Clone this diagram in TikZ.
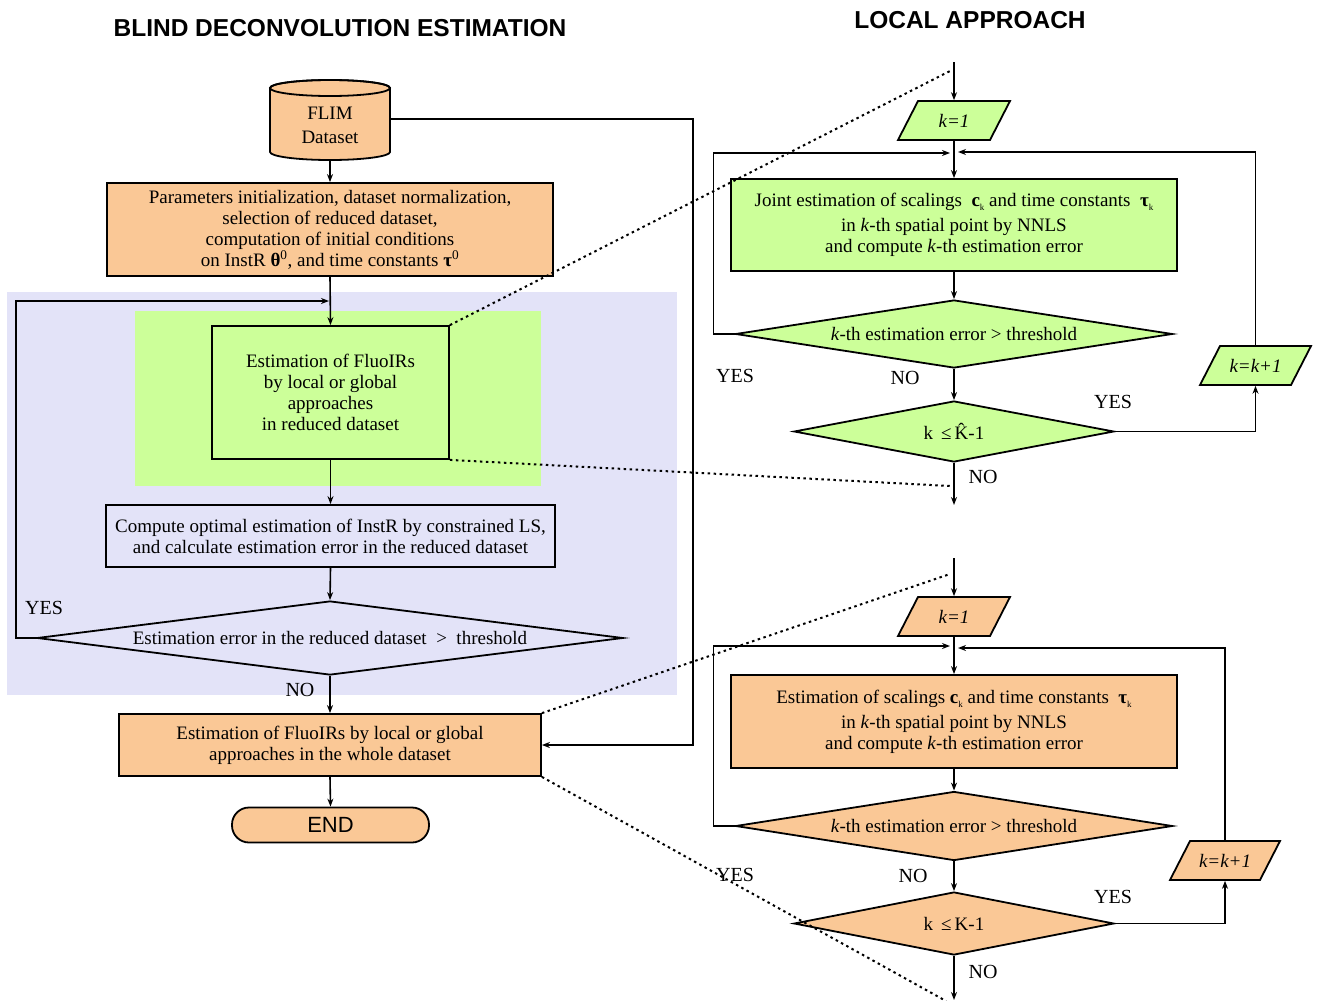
\documentclass[tikz,border=0pt]{standalone}
\usepackage{fontspec}
\setmainfont{Liberation Serif}
\newfontfamily\sansfnt{Liberation Sans}
\usetikzlibrary{shapes.geometric,arrows.meta,calc}
\definecolor{orng}{RGB}{250,200,150}
\definecolor{grn}{RGB}{204,255,153}
\definecolor{lav}{RGB}{227,227,248}
\newcommand{\subk}{\raisebox{-4pt}{\fontsize{9}{9}\selectfont k}}
\begin{document}
\begin{tikzpicture}[x=1pt,y=-1pt,
  font=\fontsize{19}{21}\selectfont,
  line width=1.6pt,
  arr/.style={-{Stealth[length=8pt,width=6pt]}},
  box/.style={draw=black, rectangle, align=center, inner sep=0pt, line width=1.8pt},
  dia/.style={draw=black, diamond, align=center, inner sep=0pt, line width=1.8pt},
  plain/.style={rectangle, align=center, inner sep=0pt},
  dotl/.style={line width=2pt, dash pattern=on 2.5pt off 3.5pt},
  lbl/.style={font=\fontsize{20}{22}\selectfont, inner sep=0pt},
  ttl/.style={font=\sansfnt\bfseries\fontsize{24.5}{26}\selectfont, inner sep=0pt}
]
\useasboundingbox (0,0) rectangle (1317,1001);

% backgrounds
\fill[lav] (7,292) rectangle (677,695);
\fill[grn] (135,311) rectangle (541,486);

% titles
\node[ttl] (t1) at (340,28) {BLIND DECONVOLUTION ESTIMATION};
\node[ttl] (t2) at (970,20) {LOCAL APPROACH};

% ---------------- left column ----------------
% cylinder
\draw[fill=orng, line width=1.8pt] (270,88) -- (270,152)
  arc[start angle=180, end angle=360, x radius=60pt, y radius=8pt]
  -- (390,88) arc[start angle=0, end angle=180, x radius=60pt, y radius=8pt] -- cycle;
\draw[line width=1.8pt] (330,88) ellipse[x radius=60pt, y radius=8pt];
\node[plain, minimum width=120pt, minimum height=70pt, font=\fontsize{19}{24}\selectfont] (flim) at (330,125) {FLIM\\Dataset};

\node[box, fill=orng, minimum width=446pt, minimum height=93pt] (b1) at (330,229.5)
  {Parameters initialization, dataset normalization,\\
   selection of reduced dataset,\\
   computation of initial conditions\\
   on InstR \textbf{θ}\textsuperscript{0}, and time constants \textbf{τ}\textsuperscript{0}};

\node[box, fill=grn, minimum width=237pt, minimum height=133pt] (b2) at (330.5,392.5)
  {Estimation of FluoIRs\\ by local or global\\ approaches\\ in reduced dataset};

\node[box, minimum width=449pt, minimum height=62pt] (b3) at (330.5,536)
  {Compute optimal estimation of InstR by constrained LS,\\
   and calculate estimation error in the reduced dataset};

\node[dia, aspect=7.92, minimum width=586pt, minimum height=74pt] (d1) at (330,638)
  {Estimation error in the reduced dataset \ > \ threshold};

\node[box, fill=orng, minimum width=422pt, minimum height=62pt] (b4) at (330,745)
  {Estimation of FluoIRs by local or global\\ approaches in the whole dataset};

\node[draw=black, fill=orng, line width=1.8pt, rounded corners=17pt, minimum width=197pt,
  minimum height=35pt, inner sep=0pt, font=\sansfnt\fontsize{22}{24}\selectfont] (endn) at (330.5,825) {END};

\coordinate (m1) at (329,301);
\draw[arr] (flim.south) -- (b1.north);
\draw[arr] (b1.south) -- (b2.north);
\draw[arr] (d1.west) -- ++(-20,0) |- (m1);
\draw[arr] (b2.south) -- (b3.north);
\draw[arr] (b3.south) -- (d1.north);
\draw[arr] (d1.south) -- (b4.north);
\draw[arr] (b4.south) -- (endn.north);
\draw[arr] ($(flim.east)+(0,-6)$) -| ($(b4.east)+(151,0)$) -- (b4.east);

\node[lbl] (yes1) at (44,608) {YES};
\node[lbl] (no1) at (300,690) {NO};

% ---------------- right top (green) ----------------
\coordinate (topG) at (954,62);
\draw[fill=grn, line width=1.8pt] (898,140) -- (990,140) -- (1010,101) -- (918,101) -- cycle;
\node[plain, minimum width=92pt, minimum height=39pt, font=\itshape\fontsize{19}{21}\selectfont] (k1g) at (954,120.5) {k=1};

\node[box, fill=grn, minimum width=446pt, minimum height=92pt] (jg) at (954,225)
  {Joint estimation of scalings \ \textbf{c}\subk\ and time constants \ \textbf{τ}\subk\\[4pt]
   in \textit{k}-th spatial point by NNLS\\
   and compute \textit{k}-th estimation error};

\node[dia, fill=grn, aspect=6.43, minimum width=437pt, minimum height=68pt] (dg1) at (954,334)
  {\textit{k}-th estimation error > threshold};

\node[dia, fill=grn, aspect=5.25, minimum width=320pt, minimum height=61pt] (dg2) at (954,431.5)
  {k \,≤\,\^{K}-1};

\draw[fill=grn, line width=1.8pt] (1200,385) -- (1291,385) -- (1311,346) -- (1220,346) -- cycle;
\node[plain, minimum width=91pt, minimum height=39pt, font=\itshape\fontsize{19}{21}\selectfont] (kkg) at (1255.5,365.5) {k=k+1};

\coordinate (mgl) at (950,153);
\coordinate (mgr) at (958,152);
\coordinate (endG) at (954,505);
\draw[arr] (topG) -- (k1g.north);
\draw[arr] (k1g.south) -- (jg.north);
\draw[arr] (jg.south) -- (dg1.north);
\draw[arr] (dg1.west) -- ++(-21,0) |- (mgl);
\draw[arr] (dg1.south) -- (dg2.north);
\draw[arr] (dg2.east) -| (kkg.south);
\draw[arr] (kkg.north) |- (mgr);
\draw[arr] (dg2.south) -- (endG);

\node[lbl] (yg1) at (735,376) {YES};
\node[lbl] (ng1) at (905,378) {NO};
\node[lbl] (yg2) at (1113,402) {YES};
\node[lbl] (ng2) at (983,477) {NO};

% ---------------- right bottom (orange) ----------------
\coordinate (topO) at (954,558);
\draw[fill=orng, line width=1.8pt] (898,636) -- (990,636) -- (1010,597) -- (918,597) -- cycle;
\node[plain, minimum width=92pt, minimum height=39pt, font=\itshape\fontsize{19}{21}\selectfont] (k1o) at (954,616.5) {k=1};

\node[box, fill=orng, minimum width=446pt, minimum height=93pt] (jo) at (954,721.5)
  {Estimation of scalings \textbf{c}\subk\ and time constants \ \textbf{τ}\subk\\[4pt]
   in \textit{k}-th spatial point by NNLS\\
   and compute \textit{k}-th estimation error};

\node[dia, fill=orng, aspect=6.33, minimum width=437pt, minimum height=69pt] (do1) at (954,826)
  {\textit{k}-th estimation error > threshold};

\node[dia, fill=orng, aspect=5.08, minimum width=320pt, minimum height=63pt] (do2) at (954,923.5)
  {k \,≤\,K-1};

\draw[fill=orng, line width=1.8pt] (1170,880) -- (1260,880) -- (1280,841) -- (1190,841) -- cycle;
\node[plain, minimum width=90pt, minimum height=39pt, font=\itshape\fontsize{19}{21}\selectfont] (kko) at (1225,860.5) {k=k+1};

\coordinate (mol) at (950,646);
\coordinate (mor) at (958,648);
\coordinate (endO) at (954,1000);
\draw[arr] (topO) -- (k1o.north);
\draw[arr] (k1o.south) -- (jo.north);
\draw[arr] (jo.south) -- (do1.north);
\draw[arr] (do1.west) -- ++(-21,0) |- (mol);
\draw[arr] (do1.south) -- (do2.north);
\draw[arr] (do2.east) -| (kko.south);
\draw[arr] (kko.north) |- (mor);
\draw[arr] (do2.south) -- (endO);

\node[lbl] (yo1) at (735,875) {YES};
\node[lbl] (no1r) at (913,876) {NO};
\node[lbl] (yo2) at (1113,897) {YES};
\node[lbl] (no2r) at (983,972) {NO};

% ---------------- dotted zoom lines ----------------
\coordinate (dt1) at (952,70);
\coordinate (dt2) at (950,486);
\coordinate (dt3) at (950,574);
\coordinate (dt4) at (946,1001);
\draw[dotl] (b2.north east) -- (dt1);
\draw[dotl] (b2.south east) -- (dt2);
\draw[dotl] (b4.north east) -- (dt3);
\draw[dotl] (b4.south east) -- (dt4);
\end{tikzpicture}
\end{document}
